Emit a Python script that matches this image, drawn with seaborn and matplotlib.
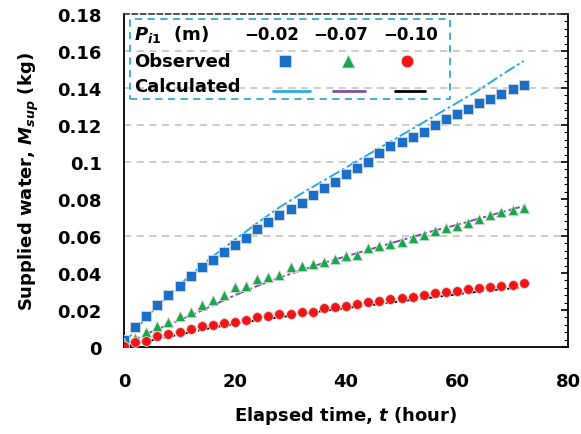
import numpy as np
import pandas as pd
import matplotlib
matplotlib.use("Agg")
import matplotlib.pyplot as plt
from matplotlib.patches import Rectangle
import seaborn as sns

# Observed supplied water (kg), sampled every 2 hours
t_obs = list(range(0, 74, 2))
obs_002 = [0.004, 0.0108, 0.0168, 0.0227, 0.028, 0.033, 0.0384, 0.043, 0.047, 0.0514,
           0.055, 0.059, 0.064, 0.0676, 0.0714, 0.0746, 0.078, 0.082, 0.086, 0.089,
           0.0935, 0.097, 0.100, 0.105, 0.1086, 0.111, 0.1135, 0.116, 0.120, 0.123,
           0.126, 0.1286, 0.132, 0.134, 0.137, 0.1395, 0.1416]
obs_007 = [0.002, 0.005, 0.008, 0.0113, 0.0135, 0.0168, 0.019, 0.0227, 0.0254, 0.028,
           0.0324, 0.033, 0.0368, 0.038, 0.039, 0.043, 0.0438, 0.0449, 0.046, 0.0476,
           0.0492, 0.050, 0.0535, 0.0546, 0.0557, 0.0568, 0.059, 0.0605, 0.0627, 0.0643,
           0.0654, 0.067, 0.0692, 0.0714, 0.073, 0.074, 0.0751]
obs_010 = [0.0005, 0.0027, 0.0032, 0.006, 0.007, 0.008, 0.0097, 0.0114, 0.012, 0.013,
           0.0137, 0.0146, 0.0162, 0.0169, 0.0176, 0.018, 0.0189, 0.019, 0.021, 0.0216,
           0.0222, 0.0232, 0.0243, 0.0249, 0.026, 0.0265, 0.027, 0.0281, 0.029, 0.0297,
           0.0303, 0.0313, 0.0319, 0.0324, 0.033, 0.0335, 0.0346]

# Calculated supplied water (kg), every 4 hours
t_calc = list(range(0, 76, 4))
calc_002 = [0.002, 0.016, 0.028, 0.039, 0.049, 0.058, 0.067, 0.0755, 0.083, 0.090,
            0.097, 0.104, 0.111, 0.118, 0.125, 0.132, 0.139, 0.147, 0.1546]
calc_007 = [0.001, 0.007, 0.012, 0.017, 0.0225, 0.028, 0.033, 0.0375, 0.0415, 0.0455,
            0.049, 0.0525, 0.056, 0.0595, 0.063, 0.066, 0.0695, 0.0728, 0.0762]
calc_010 = [0.0, 0.003, 0.0055, 0.008, 0.0105, 0.0125, 0.0145, 0.016, 0.0178, 0.0195,
            0.021, 0.0225, 0.024, 0.0255, 0.027, 0.0285, 0.030, 0.0312, 0.0324]

heads = ["\u22120.02", "\u22120.07", "\u22120.10"]
y_ticks = [0, 0.02, 0.04, 0.06, 0.08, 0.1, 0.12, 0.14, 0.16, 0.18]
y_tick_labels = ["0", "0.02", "0.04", "0.06", "0.08", "0.1", "0.12", "0.14", "0.16", "0.18"]
x_ticks = [0, 20, 40, 60, 80]
grid_levels = [0.06, 0.10, 0.12, 0.14, 0.16]

obs_colors = ["#1a6fc8", "#17a84a", "#f41414"]
calc_colors = ["#2aaae2", "#7a4fa6", "#000000"]
markers = ["s", "^", "o"]
msizes = [42, 55, 50]

FS = 13

sns.set_style("white")
plt.rcParams["font.family"] = ["DejaVu Sans"]
plt.rcParams["font.weight"] = "bold"
plt.rcParams["text.color"] = "black"
plt.rcParams["axes.labelcolor"] = "black"
plt.rcParams["xtick.color"] = "black"
plt.rcParams["ytick.color"] = "black"
plt.rcParams["mathtext.fontset"] = "custom"
plt.rcParams["mathtext.rm"] = "DejaVu Sans:bold"
plt.rcParams["mathtext.it"] = "DejaVu Sans:italic:bold"

obs_df = pd.concat([
    pd.DataFrame({"t": t_obs, "m": v, "head": h})
    for v, h in zip([obs_002, obs_007, obs_010], heads)
])
calc_df = pd.concat([
    pd.DataFrame({"t": t_calc, "m": v, "head": h})
    for v, h in zip([calc_002, calc_007, calc_010], heads)
])

fig = plt.figure(figsize=(5.81, 4.35), dpi=100)
ax = fig.add_axes([124 / 581, 1 - 348 / 435, 444 / 581, 333 / 435])

for lvl in grid_levels:
    ax.axhline(lvl, color="#c8c8c8", lw=1.3, ls=(0, (4, 3)), zorder=0)

for h, c in zip(heads, calc_colors):
    sub = calc_df[calc_df["head"] == h]
    sns.lineplot(data=sub, x="t", y="m", color=c, lw=1.4, ax=ax, zorder=2,
                 linestyle=(0, (6, 1.5, 1.5, 1.5)), legend=False)

for h, c, mk, s in zip(heads, obs_colors, markers, msizes):
    sub = obs_df[obs_df["head"] == h]
    sns.scatterplot(data=sub, x="t", y="m", color=c, marker=mk, s=s,
                    edgecolor="#d8d8d8", linewidth=0.6, ax=ax, zorder=3, legend=False)

ax.set_xlim(0, 80)
ax.set_ylim(0, 0.18)
ax.set_xticks(x_ticks)
ax.set_yticks(y_ticks)
ax.set_yticklabels(y_tick_labels)
ax.set_yticks(np.arange(0, 0.1801, 0.004), minor=True)
ax.tick_params(axis="both", which="major", direction="in", length=5, width=1.2,
               labelsize=FS, colors="black")
ax.tick_params(axis="y", which="major", pad=16)
ax.tick_params(axis="x", which="major", pad=18)
ax.tick_params(axis="y", which="both", right=True, direction="in")
ax.tick_params(axis="y", which="minor", length=3, width=0.8, colors="black")
for lab in ax.get_xticklabels() + ax.get_yticklabels():
    lab.set_fontweight("bold")

for side in ["left", "bottom", "right"]:
    ax.spines[side].set_color("black")
    ax.spines[side].set_linewidth(1.3)
ax.spines["top"].set_color("#333333")
ax.spines["top"].set_linewidth(1.2)
ax.spines["top"].set_linestyle((0, (3, 2)))

ax.set_xlabel("Elapsed time, $t$ (hour)", fontsize=FS, fontweight="bold",
              labelpad=10, color="black")
ax.set_ylabel("Supplied water, $M_{sup}$ (kg)", fontsize=FS, fontweight="bold",
              labelpad=12, color="black")

# Table-style key in the upper left
tr = ax.transAxes
ax.add_patch(Rectangle((0.0135, 0.745), 0.72, 0.24, transform=tr, fill=False,
                       edgecolor="#3aa6cf", lw=1.3, ls=(0, (4, 3)), zorder=4,
                       clip_on=False))
ax.text(0.022, 0.94, r"$P_{i1}$  (m)", transform=tr, fontsize=FS,
        fontweight="bold", va="center", ha="left", zorder=5, color="black")
for xc, h in zip([0.333, 0.488, 0.645], heads):
    ax.text(xc, 0.94, h, transform=tr, fontsize=12, fontweight="bold",
            va="center", ha="center", zorder=5, color="black")
ax.text(0.022, 0.859, "Observed", transform=tr, fontsize=FS, fontweight="bold",
        va="center", ha="left", zorder=5, color="black")
ax.text(0.022, 0.784, "Calculated", transform=tr, fontsize=FS, fontweight="bold",
        va="center", ha="left", zorder=5, color="black")
for xm, c, mk, s in zip([0.363, 0.505, 0.638], obs_colors, markers, msizes):
    ax.scatter([xm], [0.859], transform=tr, color=c, marker=mk, s=s * 1.6,
               edgecolor="#d8d8d8", linewidth=0.6, zorder=5, clip_on=False)
for (x0, x1), c in zip([(0.336, 0.419), (0.471, 0.543), (0.61, 0.678)], calc_colors):
    ax.plot([x0, x1], [0.769, 0.769], transform=tr, color=c, lw=2.0, zorder=5,
            clip_on=False)

fig.savefig("out.png", dpi=100)
